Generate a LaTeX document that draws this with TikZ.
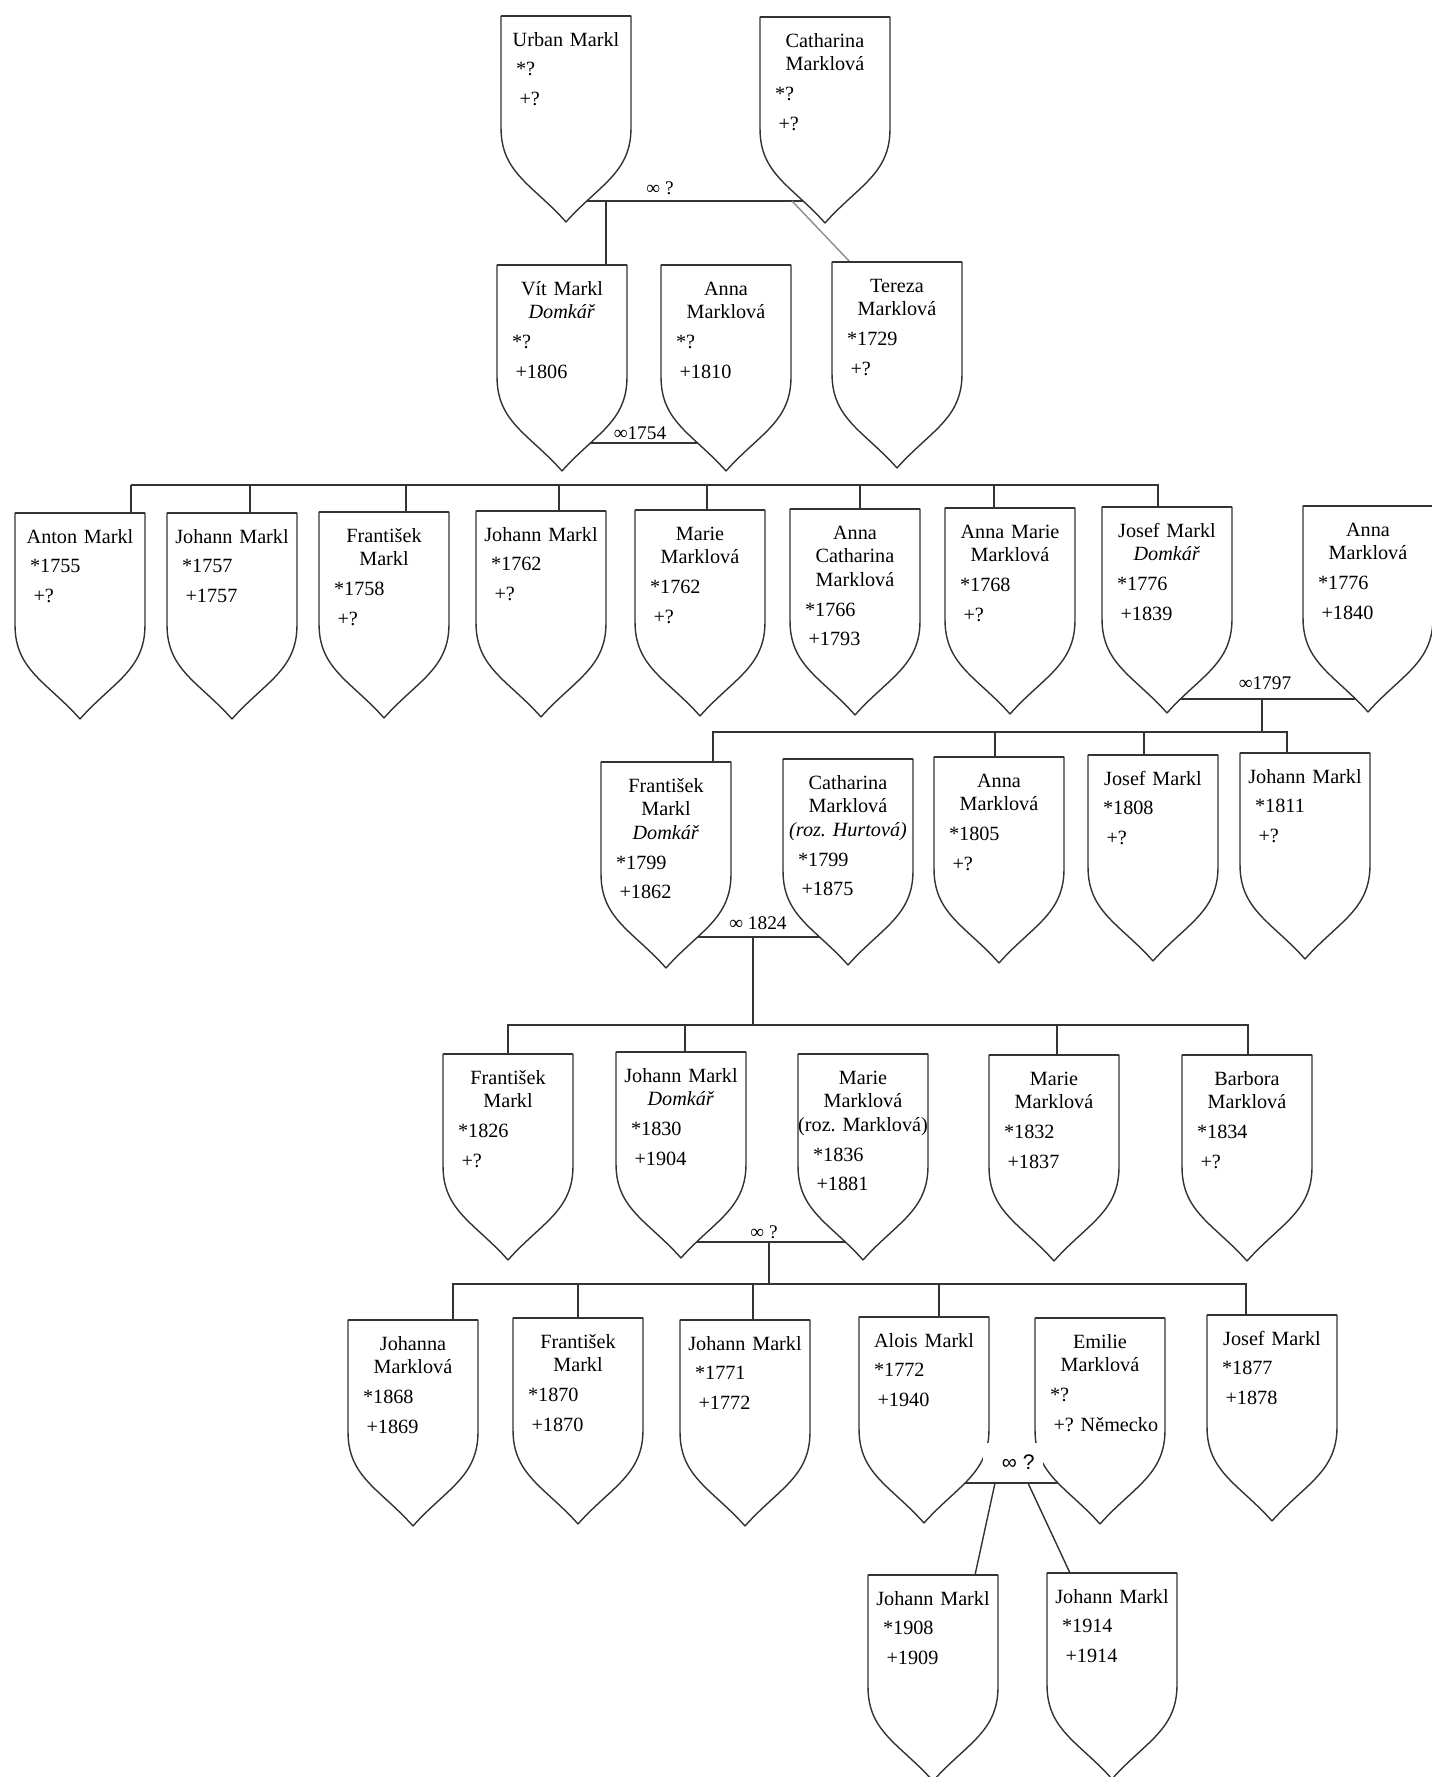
\documentclass[tikz,border=0pt]{standalone}
\usepackage{fontspec}
\setmainfont{Liberation Serif}
\newfontfamily\wedsans{Liberation Sans}
\usetikzlibrary{calc,backgrounds}
\colorlet{linegray}{black!80}
\colorlet{faintgray}{black!45}
\frenchspacing

% one shield: name, top centre, name lines, born, died
\newcommand{\shield}[5]{%
  \node[shieldbox] (#1) at (#2) {};
  \draw[shieldline] (#1.north west) -- (#1.north east) -- ++(0,112)
    .. controls +(0,45) and +(33,-37) .. (#1.south)
    .. controls +(-33,-37) and +(0,45) .. ($(#1.north west)+(0,112)$) -- cycle;
  \draw[shieldtop] (#1.north west) -- (#1.north east);
  \node[shieldtext] (#1-txt) at ($(#1.north)+(0,13)$)
    {{\centering\strut #3\par}\vspace{3.4pt}%
     \hspace*{8pt}*#4\\[3pt]\hspace*{10pt}+#5};
}

\begin{document}
\begin{tikzpicture}[x=0.02cm,y=-0.02cm]
\tikzset{shieldbox/.style={anchor=north,minimum width=2.6cm,minimum height=4.12cm,inner sep=0pt,outer sep=0pt}}
\tikzset{shieldline/.style={draw=linegray,fill=white,line width=0.8pt,line join=round}}
\tikzset{shieldtop/.style={draw=linegray,line width=1.5pt}}
\tikzset{shieldtext/.style={anchor=north,inner sep=0pt,text width=2.56cm,align=left,font=\fontsize{11.5}{13.6}\selectfont}}
\tikzset{wed/.style={font=\fontsize{11}{13}\selectfont,inner sep=1pt}}
\tikzset{link/.style={draw=linegray,line width=0.8pt}}
\useasboundingbox (0,0) rectangle (1431,1777);

% generation 1 and 2
\shield{urban}{566,16}{Urban Markl}{?}{?}
\shield{cath1}{825,17}{Catharina\\Marklová}{?}{?}
\shield{vit}{562,265}{Vít Markl\\\textit{Domkář}}{?}{1806}
\shield{anna1}{726,265}{Anna\\Marklová}{?}{1810}
\shield{tereza}{897,262}{Tereza\\Marklová}{1729}{?}

% generation 3
\shield{anton}{80,513}{Anton Markl}{1755}{?}
\shield{johann1}{232,513}{Johann Markl}{1757}{1757}
\shield{frant1}{384,512}{František\\Markl}{1758}{?}
\shield{johann2}{541,511}{Johann Markl}{1762}{?}
\shield{marie1}{700,510}{Marie\\Marklová}{1762}{?}
\shield{annacath}{855,509}{Anna\\Catharina\\Marklová}{1766}{1793}
\shield{annamarie}{1010,508}{Anna Marie\\Marklová}{1768}{?}
\shield{josef1}{1167,507}{Josef Markl\\\textit{Domkář}}{1776}{1839}
\shield{anna2}{1368,506}{Anna\\Marklová}{1776}{1840}

% generation 4
\shield{frant2}{666,762}{František\\Markl\\\textit{Domkář}}{1799}{1862}
\shield{cath2}{848,759}{Catharina\\Marklová\\\makebox[\linewidth]{\textit{(roz. Hurtová)}}}{1799}{1875}
\shield{anna3}{999,757}{Anna\\Marklová}{1805}{?}
\shield{josef2}{1153,755}{Josef Markl}{1808}{?}
\shield{johann3}{1305,753}{Johann Markl}{1811}{?}

% generation 5
\shield{frant3}{508,1054}{František\\Markl}{1826}{?}
\shield{johann4}{681,1052}{Johann Markl\\\textit{Domkář}}{1830}{1904}
\shield{marie2}{863,1054}{Marie\\Marklová\\\makebox[\linewidth]{(roz. Marklová)}}{1836}{1881}
\shield{marie3}{1054,1055}{Marie\\Marklová}{1832}{1837}
\shield{barbora}{1247,1055}{Barbora\\Marklová}{1834}{?}

% generation 6 and 7
\shield{johanna}{413,1320}{Johanna\\Marklová}{1868}{1869}
\shield{frant4}{578,1318}{František\\Markl}{1870}{1870}
\shield{johann5}{745,1320}{Johann Markl}{1771}{1772}
\shield{alois}{924,1317}{Alois Markl}{1772}{1940}
\shield{emilie}{1100,1318}{Emilie\\Marklová}{?}{? Německo}
\shield{josef3}{1272,1315}{Josef Markl}{1877}{1878}
\shield{johann6}{933,1575}{Johann Markl}{1908}{1909}
\shield{johann7}{1112,1573}{Johann Markl}{1914}{1914}

% marriages and sibling bars
\coordinate (m1) at ($(urban.north)+(40,185)$);
\coordinate (m2) at ($(vit.north)+(78,178)$);
\coordinate (m3) at ($(josef1.north)+(95,192)$);
\coordinate (m4) at ($(frant2.north)+(87,175)$);
\coordinate (m5) at ($(johann4.north)+(88,190)$);
\coordinate (m6) at ($(alois.north)+(89,166)$);
\coordinate (b3) at ($(anton.north)+(51,-28)$);
\coordinate (b4) at ($(m3)+(0,33)$);
\coordinate (b5) at ($(m4)+(0,88)$);
\coordinate (b6) at ($(m5)+(0,42)$);

\node[wed] (w1) at ($(m1)+(54,-13)$) {∞ ?};
\node[wed] (w2) at ($(m2)+(0,-10)$) {∞1754};
\node[wed] (w3) at ($(m3)+(3,-16)$) {∞1797};
\node[wed] (w4) at ($(m4)+(5,-14)$) {∞ 1824};
\node[wed] (w5) at ($(m5)+(-5,-10)$) {∞ ?};
\node[fill=white,inner sep=0pt,minimum width=1.2cm,minimum height=0.76cm,font=\wedsans\fontsize{12}{14}\selectfont] (w6) at ($(m6)+(0,-21)$) {\hspace*{6pt}∞ ?};

\begin{scope}[on background layer]
\draw[link] (urban.center |- m1) -- (cath1.center |- m1);
\draw[link] (m1) -- (m1 |- vit.north);
\draw[link,draw=faintgray] ($(cath1.center |- m1)+(-33,0)$) -- ($(tereza.north)+(-47,0)$);
\draw[link] (vit.center |- m2) -- (anna1.center |- m2);
\foreach \n/\dx in {anton/51,johann1/18,frant1/22,johann2/18,marie1/7,annacath/5,annamarie/-16,josef1/-9}
  \draw[link] ($(\n.north)+(\dx,0)$) |- (b3);
\draw[link] (josef1.center |- m3) -- (anna2.center |- m3);
\draw[link] (m3) -- (b4);
\foreach \n/\dx in {frant2/47,anna3/-4,josef2/-9,johann3/-18}
  \draw[link] ($(\n.north)+(\dx,0)$) |- (b4);
\draw[link] (frant2.center |- m4) -- (cath2.center |- m4);
\draw[link] (m4) -- (b5);
\foreach \n/\dx in {frant3/0,johann4/4,marie3/3,barbora/1}
  \draw[link] ($(\n.north)+(\dx,0)$) |- (b5);
\draw[link] (johann4.center |- m5) -- (marie2.center |- m5);
\draw[link] (m5) -- (b6);
\foreach \n/\dx in {johanna/40,frant4/0,johann5/8,alois/15,josef3/-26}
  \draw[link] ($(\n.north)+(\dx,0)$) |- (b6);
\draw[link] (alois.center |- m6) -- (emilie.center |- m6);
\draw[link] ($(m6)+(-18,0)$) -- ($(johann6.north)+(42,0)$);
\draw[link] ($(m6)+(15,0)$) -- ($(johann7.north)+(-42,0)$);
\end{scope}
\end{tikzpicture}
\end{document}
